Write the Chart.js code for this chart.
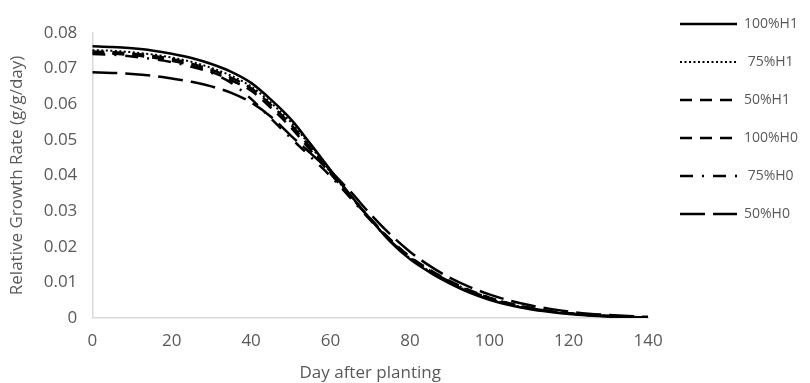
<!DOCTYPE html>
<html>
<head>
<meta charset="utf-8">
<script src="https://cdn.jsdelivr.net/npm/chart.js@4"></script>
<style>
  body { margin: 0; background: #fff; }
  #wrap { width: 810px; height: 383px; }
</style>
</head>
<body>
<div id="wrap"><canvas id="rgrChart" width="810" height="383"></canvas></div>
<script>
// days after planting, every 5 days
const days = [0, 5, 10, 15, 20, 25, 30, 35, 40, 45, 50, 55, 60, 65, 70, 75, 80, 85, 90, 95, 100, 105, 110, 115, 120, 125, 130, 135, 140];
const labels = ["100%H1", " 75%H1", "50%H1", "100%H0", " 75%H0", "50%H0"];

const h1_100 = [0.0763, 0.0761, 0.0757, 0.0751, 0.0742, 0.0730, 0.0713, 0.0691, 0.0660, 0.0613, 0.0558, 0.0488, 0.0415, 0.0345, 0.0278, 0.0215, 0.0165, 0.0128, 0.0097, 0.0071, 0.0051, 0.0036, 0.0025, 0.0017, 0.0011, 0.0007, 0.0004, 0.0002, 0.0001];
const h1_75 = [0.0752, 0.0750, 0.0746, 0.0740, 0.0731, 0.0719, 0.0702, 0.0680, 0.0650, 0.0604, 0.0550, 0.0482, 0.0411, 0.0343, 0.0278, 0.0217, 0.0168, 0.0131, 0.0100, 0.0074, 0.0054, 0.0038, 0.0027, 0.0018, 0.0012, 0.0008, 0.0005, 0.0003, 0.0001];
const h1_50 = [0.0748, 0.0746, 0.0742, 0.0736, 0.0727, 0.0714, 0.0697, 0.0674, 0.0645, 0.0598, 0.0543, 0.0477, 0.0408, 0.0342, 0.0279, 0.0219, 0.0170, 0.0133, 0.0102, 0.0076, 0.0056, 0.0040, 0.0028, 0.0019, 0.0013, 0.0008, 0.0005, 0.0003, 0.0001];
const h0_100 = [0.0744, 0.0742, 0.0738, 0.0731, 0.0722, 0.0709, 0.0691, 0.0667, 0.0638, 0.0590, 0.0535, 0.0470, 0.0405, 0.0341, 0.0279, 0.0221, 0.0172, 0.0135, 0.0104, 0.0078, 0.0057, 0.0041, 0.0029, 0.0020, 0.0013, 0.0009, 0.0005, 0.0003, 0.0001];
const h0_75 = [0.0741, 0.0739, 0.0734, 0.0727, 0.0718, 0.0705, 0.0688, 0.0660, 0.0615, 0.0560, 0.0505, 0.0452, 0.0398, 0.0337, 0.0275, 0.0217, 0.0169, 0.0132, 0.0102, 0.0076, 0.0056, 0.0040, 0.0028, 0.0019, 0.0013, 0.0008, 0.0005, 0.0003, 0.0001];
const h0_50 = [0.0690, 0.0688, 0.0685, 0.0680, 0.0672, 0.0663, 0.0650, 0.0632, 0.0605, 0.0565, 0.0512, 0.0462, 0.0412, 0.0355, 0.0292, 0.0235, 0.0186, 0.0146, 0.0113, 0.0087, 0.0066, 0.0049, 0.0036, 0.0026, 0.0018, 0.0012, 0.0008, 0.0005, 0.0003];

const yTicks = [0, 0.01, 0.02, 0.03, 0.04, 0.05, 0.06, 0.07, 0.08];

const series = [h1_100, h1_75, h1_50, h0_100, h0_75, h0_50];
const dashes = [[], [2, 2.5], [12, 8], [12, 8], [13, 9, 2, 9], [25, 8]];
const widths = [2.5, 2, 2.5, 2.5, 2.5, 2.5];

const gray = "#595959";
const font = { family: "Open Sans", size: 17 };
const titleFont = { family: "Open Sans", size: 17, lineHeight: 1.1 };
const legendFont = { family: "Open Sans", size: 14 };

const datasets = series.map((vals, i) => ({
    label: labels[i],
    data: vals.map((v, j) => ({ x: days[j], y: v })),
    borderColor: "#000",
    backgroundColor: "#000",
    borderWidth: widths[i],
    borderDash: dashes[i],
    pointRadius: 0,
    fill: false,
    cubicInterpolationMode: "monotone"
}));

// put the legend where the reference has it
const legendShift = {
    id: "legendShift",
    afterLayout(chart) {
        const lg = chart.legend;
        const pad = lg.options.labels.padding;
        const dx = 680 - (lg.left + pad);
        const dy = 24 - (lg.top + pad + legendFont.size * 0.5);
        lg.left += dx; lg.right += dx;
        lg.top += dy; lg.bottom += dy;
    }
};

new Chart(document.getElementById("rgrChart"), {
    type: "line",
    data: { datasets: datasets },
    plugins: [legendShift],
    options: {
        responsive: false,
        animation: false,
        layout: { padding: { top: 33, left: 8, bottom: 0, right: 10 } },
        plugins: {
            tooltip: { enabled: false },
            legend: {
                position: "right",
                align: "start",
                labels: {
                    usePointStyle: true,
                    pointStyleWidth: 57,
                    padding: 24,
                    color: gray,
                    font: legendFont,
                    generateLabels: chart => {
                        const items = Chart.defaults.plugins.legend.labels.generateLabels(chart);
                        items.forEach((item, i) => {
                            item.pointStyle = "line";
                            item.strokeStyle = "#000";
                            item.lineDash = dashes[i];
                            item.lineWidth = widths[i];
                        });
                        return items;
                    }
                }
            }
        },
        scales: {
            x: {
                type: "linear",
                min: 0,
                max: 140,
                grid: { display: false, drawTicks: false },
                border: { display: true, color: "#d9d9d9", width: 1.5 },
                ticks: { stepSize: 20, color: gray, font: font, padding: 13 },
                title: { display: true, text: "Day after planting", color: gray, font: titleFont, padding: { top: 0, bottom: 0 } }
            },
            y: {
                min: 0,
                max: 0.08,
                grid: { display: false, drawTicks: false },
                border: { display: true, color: "#d9d9d9", width: 1.5 },
                afterBuildTicks: axis => { axis.ticks = yTicks.map(v => ({ value: v })); },
                ticks: { color: gray, font: font, padding: 15 },
                title: { display: true, text: "Relative Growth Rate (g/g/day)", color: gray, font: titleFont, padding: { top: 0, bottom: 2 } }
            }
        }
    }
});
</script>
</body>
</html>
